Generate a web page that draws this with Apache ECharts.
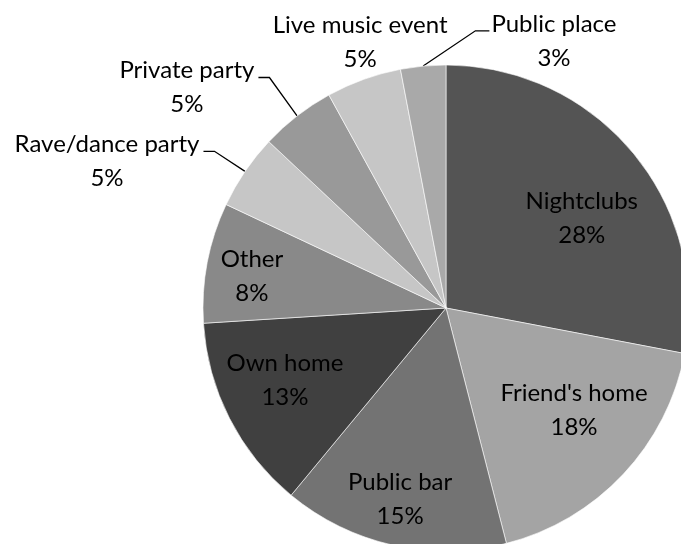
<!DOCTYPE html>
<html>
<head>
<meta charset="utf-8">
<script src="https://cdn.jsdelivr.net/npm/echarts@6/dist/echarts.min.js"></script>
<style>
  html, body { margin: 0; padding: 0; background: #fff; }
  #chart { width: 681px; height: 544px; }
</style>
</head>
<body>
<div id="chart"></div>
<script>
// Where the drinking took place (share of respondents, %)
const categories = ['Nightclubs', "Friend's home", 'Public bar', 'Own home', 'Other',
  'Rave/dance party', 'Private party', 'Live music event', 'Public place'];
const shares = [28, 18, 15, 13, 8, 5, 5, 5, 3];

// Slice fills, in category order
const sliceColors = ['#545454', '#a4a4a4', '#737373', '#404040', '#898989',
  '#c6c6c6', '#999999', '#c6c6c6', '#a9a9a9'];

// Label placement per slice: [angle shift from slice middle (deg), distance as fraction of radius]
const labelSpots = {
  'Nightclubs': [6.1, 0.67],
  "Friend's home": [-4.6, 0.674],
  'Public bar': [0.9, 0.809],
  'Own home': [2.9, 0.726],
  'Other': [-1.6, 0.809],
  'Rave/dance party': [-10.8, 1.52],
  'Private party': [-11.8, 1.40],
  'Live music event': [1.9, 1.15],
  'Public place': [27.4, 1.186]
};
// Slices whose label sits outside with a leader line
const leaderLines = ['Rave/dance party', 'Private party', 'Public place'];

const CX = 446, CY = 308, R = 243;
const total = shares.reduce((a, b) => a + b, 0);

// Middle angle of each slice, clockwise from 12 o'clock, in degrees
const midAngles = [];
let run = 0;
shares.forEach(v => { midAngles.push(360 * (run + v / 2) / total); run += v; });

function polar(deg, dist) {
  const t = deg * Math.PI / 180;
  return [CX + dist * Math.sin(t), CY - dist * Math.cos(t)];
}

const chart = echarts.init(document.getElementById('chart'), null, { renderer: 'canvas' });

chart.setOption({
  backgroundColor: '#ffffff',
  animation: false,
  series: [{
    type: 'pie',
    center: [CX, CY],
    radius: R,
    startAngle: 90,
    clockwise: true,
    avoidLabelOverlap: false,
    data: categories.map((name, i) => ({
      name: name,
      value: shares[i],
      itemStyle: { color: sliceColors[i] },
      labelLine: { show: leaderLines.indexOf(name) >= 0 }
    })),
    itemStyle: { borderColor: '#ffffff', borderWidth: 0.6 },
    label: {
      show: true,
      position: 'outside',
      formatter: '{b}\n{c}%',
      fontFamily: 'Lato',
      fontSize: 24,
      lineHeight: 34,
      color: '#000000'
    },
    labelLine: {
      show: true,
      lineStyle: { color: '#000000', width: 1.3 }
    },
    labelLayout: function (params) {
      const i = params.dataIndex;
      const name = categories[i];
      const spot = labelSpots[name];
      const p = polar(midAngles[i] + spot[0], R * spot[1]);
      const w = params.labelRect.width;
      const edge = polar(midAngles[i], R);
      const onLeft = p[0] < edge[0];
      const endX = onLeft ? p[0] + w / 2 + 4 : p[0] - w / 2 - 2;
      const endY = p[1] - 10;
      const elbowX = onLeft ? endX + 11 : endX - 14;
      return {
        x: p[0],
        y: p[1],
        align: 'center',
        verticalAlign: 'middle',
        labelLinePoints: [edge, [elbowX, endY], [endX, endY]]
      };
    }
  }]
});
</script>
</body>
</html>
